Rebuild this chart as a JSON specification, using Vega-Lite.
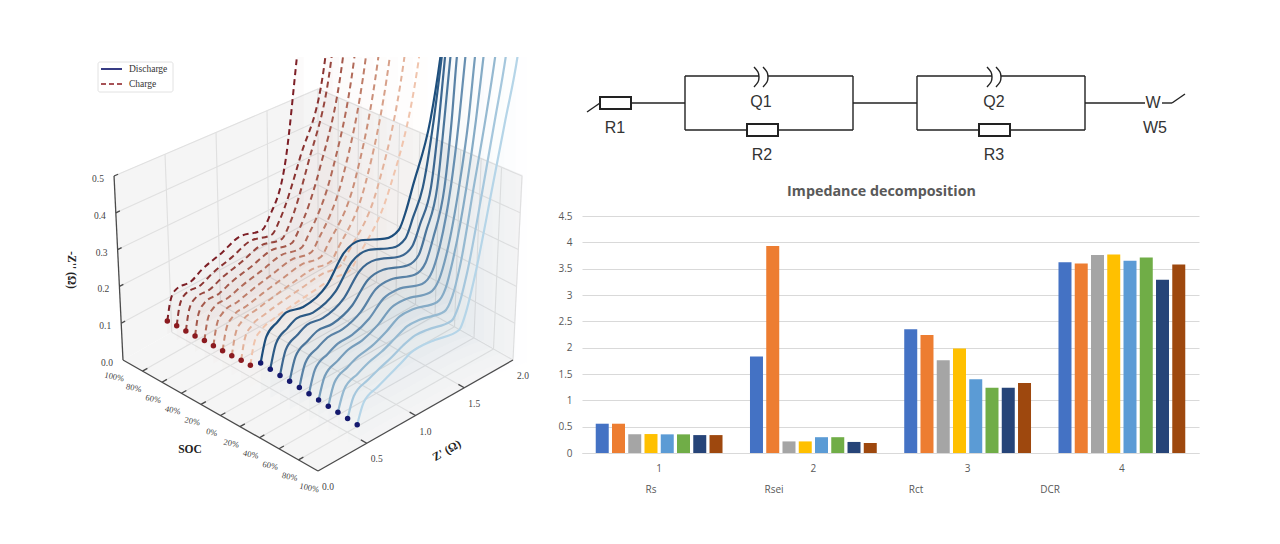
{"$schema":"https://vega.github.io/schema/vega-lite/v6.json","background":"white","padding":{"left":0,"top":57,"right":0,"bottom":0},"config":{"view":{"stroke":null}},"spacing":0,
"datasets":{
"grid":[
{"k":"g","s":-100,"x":0,"z":0.1,"s2":-100,"x2":2,"z2":0.1},{"k":"g","s":-100,"x":0,"z":0.2,"s2":-100,"x2":2,"z2":0.2},{"k":"g","s":-100,"x":0,"z":0.3,"s2":-100,"x2":2,"z2":0.3},{"k":"g","s":-100,"x":0,"z":0.4,"s2":-100,"x2":2,"z2":0.4},{"k":"g","s":-100,"x":0,"z":0.5,"s2":-100,"x2":2,"z2":0.5},
{"k":"g","s":-100,"x":2,"z":0.1,"s2":100,"x2":2,"z2":0.1},{"k":"g","s":-100,"x":2,"z":0.2,"s2":100,"x2":2,"z2":0.2},{"k":"g","s":-100,"x":2,"z":0.3,"s2":100,"x2":2,"z2":0.3},{"k":"g","s":-100,"x":2,"z":0.4,"s2":100,"x2":2,"z2":0.4},{"k":"g","s":-100,"x":2,"z":0.5,"s2":100,"x2":2,"z2":0.5},
{"k":"g","s":-100,"x":0.5,"z":0,"s2":-100,"x2":0.5,"z2":0.5},{"k":"g","s":-100,"x":1,"z":0,"s2":-100,"x2":1,"z2":0.5},{"k":"g","s":-100,"x":1.5,"z":0,"s2":-100,"x2":1.5,"z2":0.5},
{"k":"g","s":-100,"x":2,"z":0,"s2":-100,"x2":2,"z2":0.5},{"k":"g","s":-80,"x":2,"z":0,"s2":-80,"x2":2,"z2":0.5},{"k":"g","s":-60,"x":2,"z":0,"s2":-60,"x2":2,"z2":0.5},{"k":"g","s":-40,"x":2,"z":0,"s2":-40,"x2":2,"z2":0.5},{"k":"g","s":-20,"x":2,"z":0,"s2":-20,"x2":2,"z2":0.5},{"k":"g","s":0,"x":2,"z":0,"s2":0,"x2":2,"z2":0.5},{"k":"g","s":20,"x":2,"z":0,"s2":20,"x2":2,"z2":0.5},{"k":"g","s":40,"x":2,"z":0,"s2":40,"x2":2,"z2":0.5},{"k":"g","s":60,"x":2,"z":0,"s2":60,"x2":2,"z2":0.5},{"k":"g","s":80,"x":2,"z":0,"s2":80,"x2":2,"z2":0.5},{"k":"g","s":100,"x":2,"z":0,"s2":100,"x2":2,"z2":0.5},
{"k":"g","s":-100,"x":0.5,"z":0,"s2":100,"x2":0.5,"z2":0},{"k":"g","s":-100,"x":1,"z":0,"s2":100,"x2":1,"z2":0},{"k":"g","s":-100,"x":1.5,"z":0,"s2":100,"x2":1.5,"z2":0},{"k":"g","s":-100,"x":2,"z":0,"s2":100,"x2":2,"z2":0},
{"k":"g","s":-80,"x":0,"z":0,"s2":-80,"x2":2,"z2":0},{"k":"g","s":-60,"x":0,"z":0,"s2":-60,"x2":2,"z2":0},{"k":"g","s":-40,"x":0,"z":0,"s2":-40,"x2":2,"z2":0},{"k":"g","s":-20,"x":0,"z":0,"s2":-20,"x2":2,"z2":0},{"k":"g","s":0,"x":0,"z":0,"s2":0,"x2":2,"z2":0},{"k":"g","s":20,"x":0,"z":0,"s2":20,"x2":2,"z2":0},{"k":"g","s":40,"x":0,"z":0,"s2":40,"x2":2,"z2":0},{"k":"g","s":60,"x":0,"z":0,"s2":60,"x2":2,"z2":0},{"k":"g","s":80,"x":0,"z":0,"s2":80,"x2":2,"z2":0},
{"k":"a","s":-100,"x":0,"z":0,"s2":-100,"x2":0,"z2":0.5},{"k":"a","s":-100,"x":0,"z":0,"s2":100,"x2":0,"z2":0},{"k":"a","s":100,"x":0,"z":0,"s2":100,"x2":2,"z2":0},
{"k":"a","s":-100,"x":0,"z":0.1,"s2":-100,"x2":0.04,"z2":0.1},{"k":"a","s":-100,"x":0,"z":0.2,"s2":-100,"x2":0.04,"z2":0.2},{"k":"a","s":-100,"x":0,"z":0.3,"s2":-100,"x2":0.04,"z2":0.3},{"k":"a","s":-100,"x":0,"z":0.4,"s2":-100,"x2":0.04,"z2":0.4},{"k":"a","s":-100,"x":0,"z":0.5,"s2":-100,"x2":0.04,"z2":0.5},
{"k":"a","s":-80,"x":0,"z":0,"s2":-80,"x2":0.05,"z2":0},{"k":"a","s":-60,"x":0,"z":0,"s2":-60,"x2":0.05,"z2":0},{"k":"a","s":-40,"x":0,"z":0,"s2":-40,"x2":0.05,"z2":0},{"k":"a","s":-20,"x":0,"z":0,"s2":-20,"x2":0.05,"z2":0},{"k":"a","s":0,"x":0,"z":0,"s2":0,"x2":0.05,"z2":0},{"k":"a","s":20,"x":0,"z":0,"s2":20,"x2":0.05,"z2":0},{"k":"a","s":40,"x":0,"z":0,"s2":40,"x2":0.05,"z2":0},{"k":"a","s":60,"x":0,"z":0,"s2":60,"x2":0.05,"z2":0},{"k":"a","s":80,"x":0,"z":0,"s2":80,"x2":0.05,"z2":0},
{"k":"a","s":100,"x":0.5,"z":0,"s2":94,"x2":0.5,"z2":0},{"k":"a","s":100,"x":1,"z":0,"s2":94,"x2":1,"z2":0},{"k":"a","s":100,"x":1.5,"z":0,"s2":94,"x2":1.5,"z2":0}
],
"ticks":[
{"k":"z","s":-100,"x":0,"z":0,"label":"0.0"},{"k":"z","s":-100,"x":0,"z":0.1,"label":"0.1"},{"k":"z","s":-100,"x":0,"z":0.2,"label":"0.2"},{"k":"z","s":-100,"x":0,"z":0.3,"label":"0.3"},{"k":"z","s":-100,"x":0,"z":0.4,"label":"0.4"},{"k":"z","s":-100,"x":0,"z":0.5,"label":"0.5"},
{"k":"s","s":-100,"x":0,"z":0,"label":"100%"},{"k":"s","s":-80,"x":0,"z":0,"label":"80%"},{"k":"s","s":-60,"x":0,"z":0,"label":"60%"},{"k":"s","s":-40,"x":0,"z":0,"label":"40%"},{"k":"s","s":-20,"x":0,"z":0,"label":"20%"},{"k":"s","s":0,"x":0,"z":0,"label":"0%"},{"k":"s","s":20,"x":0,"z":0,"label":"20%"},{"k":"s","s":40,"x":0,"z":0,"label":"40%"},{"k":"s","s":60,"x":0,"z":0,"label":"60%"},{"k":"s","s":80,"x":0,"z":0,"label":"80%"},{"k":"s","s":100,"x":0,"z":0,"label":"100%"},
{"k":"r","s":100,"x":0,"z":0,"label":"0.0"},{"k":"r","s":100,"x":0.5,"z":0,"label":"0.5"},{"k":"r","s":100,"x":1,"z":0,"label":"1.0"},{"k":"r","s":100,"x":1.5,"z":0,"label":"1.5"},{"k":"r","s":100,"x":2,"z":0,"label":"2.0"}
],
"starts":[
{"s":-100,"x":0.46,"z":0.038},{"s":-90,"x":0.456,"z":0.04},{"s":-80,"x":0.45,"z":0.042},{"s":-70,"x":0.444,"z":0.044},{"s":-60,"x":0.44,"z":0.047},{"s":-50,"x":0.432,"z":0.049},{"s":-40,"x":0.426,"z":0.051},{"s":-30,"x":0.42,"z":0.053},{"s":-20,"x":0.416,"z":0.056},{"s":-10,"x":0.41,"z":0.058},
{"s":0,"x":0.416,"z":0.077},{"s":10,"x":0.414,"z":0.075},{"s":20,"x":0.413,"z":0.073},{"s":30,"x":0.411,"z":0.072},{"s":40,"x":0.41,"z":0.07},{"s":50,"x":0.408,"z":0.068},{"s":60,"x":0.406,"z":0.066},{"s":70,"x":0.405,"z":0.064},{"s":80,"x":0.403,"z":0.063},{"s":90,"x":0.402,"z":0.061},{"s":100,"x":0.4,"z":0.059}
],
"curves":[
{"s":-100,"x":0.46,"z":0.038},{"s":-100,"x":0.5,"z":0.09},{"s":-100,"x":0.554,"z":0.111},{"s":-100,"x":0.718,"z":0.112},{"s":-100,"x":0.82,"z":0.128},{"s":-100,"x":1.026,"z":0.146},{"s":-100,"x":1.2,"z":0.166},{"s":-100,"x":1.436,"z":0.151},{"s":-100,"x":1.508,"z":0.179},{"s":-100,"x":1.682,"z":0.334},{"s":-100,"x":1.794,"z":0.622},{"s":-100,"x":1.864,"z":0.822},
{"s":-90,"x":0.456,"z":0.04},{"s":-90,"x":0.495,"z":0.093},{"s":-90,"x":0.551,"z":0.114},{"s":-90,"x":0.712,"z":0.116},{"s":-90,"x":0.823,"z":0.131},{"s":-90,"x":1.027,"z":0.148},{"s":-90,"x":1.206,"z":0.167},{"s":-90,"x":1.435,"z":0.153},{"s":-90,"x":1.507,"z":0.181},{"s":-90,"x":1.72,"z":0.34},{"s":-90,"x":1.97,"z":0.613},{"s":-90,"x":2.04,"z":0.813},
{"s":-80,"x":0.45,"z":0.042},{"s":-80,"x":0.49,"z":0.095},{"s":-80,"x":0.548,"z":0.116},{"s":-80,"x":0.705,"z":0.12},{"s":-80,"x":0.825,"z":0.134},{"s":-80,"x":1.029,"z":0.15},{"s":-80,"x":1.212,"z":0.168},{"s":-80,"x":1.434,"z":0.155},{"s":-80,"x":1.506,"z":0.183},{"s":-80,"x":1.7,"z":0.34},{"s":-80,"x":1.93,"z":0.63},{"s":-80,"x":2,"z":0.83},
{"s":-70,"x":0.444,"z":0.044},{"s":-70,"x":0.485,"z":0.098},{"s":-70,"x":0.545,"z":0.119},{"s":-70,"x":0.699,"z":0.124},{"s":-70,"x":0.828,"z":0.138},{"s":-70,"x":1.03,"z":0.152},{"s":-70,"x":1.218,"z":0.168},{"s":-70,"x":1.433,"z":0.158},{"s":-70,"x":1.505,"z":0.185},{"s":-70,"x":1.72,"z":0.34},{"s":-70,"x":1.94,"z":0.64},{"s":-70,"x":2.01,"z":0.84},
{"s":-60,"x":0.44,"z":0.047},{"s":-60,"x":0.48,"z":0.1},{"s":-60,"x":0.542,"z":0.122},{"s":-60,"x":0.692,"z":0.128},{"s":-60,"x":0.831,"z":0.141},{"s":-60,"x":1.031,"z":0.154},{"s":-60,"x":1.224,"z":0.169},{"s":-60,"x":1.432,"z":0.16},{"s":-60,"x":1.504,"z":0.187},{"s":-60,"x":1.74,"z":0.34},{"s":-60,"x":1.95,"z":0.65},{"s":-60,"x":2.02,"z":0.85},
{"s":-50,"x":0.432,"z":0.049},{"s":-50,"x":0.475,"z":0.103},{"s":-50,"x":0.538,"z":0.124},{"s":-50,"x":0.686,"z":0.132},{"s":-50,"x":0.833,"z":0.144},{"s":-50,"x":1.033,"z":0.157},{"s":-50,"x":1.23,"z":0.17},{"s":-50,"x":1.432,"z":0.162},{"s":-50,"x":1.504,"z":0.189},{"s":-50,"x":1.75,"z":0.34},{"s":-50,"x":1.96,"z":0.66},{"s":-50,"x":2.03,"z":0.86},
{"s":-40,"x":0.426,"z":0.051},{"s":-40,"x":0.47,"z":0.105},{"s":-40,"x":0.535,"z":0.127},{"s":-40,"x":0.679,"z":0.136},{"s":-40,"x":0.836,"z":0.147},{"s":-40,"x":1.034,"z":0.159},{"s":-40,"x":1.236,"z":0.171},{"s":-40,"x":1.431,"z":0.164},{"s":-40,"x":1.503,"z":0.191},{"s":-40,"x":1.77,"z":0.34},{"s":-40,"x":1.98,"z":0.669},{"s":-40,"x":2.05,"z":0.869},
{"s":-30,"x":0.42,"z":0.053},{"s":-30,"x":0.465,"z":0.108},{"s":-30,"x":0.532,"z":0.13},{"s":-30,"x":0.673,"z":0.14},{"s":-30,"x":0.839,"z":0.15},{"s":-30,"x":1.035,"z":0.161},{"s":-30,"x":1.242,"z":0.171},{"s":-30,"x":1.43,"z":0.166},{"s":-30,"x":1.502,"z":0.193},{"s":-30,"x":1.77,"z":0.34},{"s":-30,"x":1.99,"z":0.68},{"s":-30,"x":2.06,"z":0.88},
{"s":-20,"x":0.416,"z":0.056},{"s":-20,"x":0.46,"z":0.11},{"s":-20,"x":0.529,"z":0.132},{"s":-20,"x":0.666,"z":0.144},{"s":-20,"x":0.841,"z":0.154},{"s":-20,"x":1.037,"z":0.163},{"s":-20,"x":1.248,"z":0.172},{"s":-20,"x":1.429,"z":0.169},{"s":-20,"x":1.501,"z":0.195},{"s":-20,"x":1.79,"z":0.34},{"s":-20,"x":2.03,"z":0.685},{"s":-20,"x":2.1,"z":0.885},
{"s":-10,"x":0.41,"z":0.058},{"s":-10,"x":0.455,"z":0.113},{"s":-10,"x":0.526,"z":0.135},{"s":-10,"x":0.66,"z":0.148},{"s":-10,"x":0.844,"z":0.157},{"s":-10,"x":1.038,"z":0.165},{"s":-10,"x":1.254,"z":0.173},{"s":-10,"x":1.428,"z":0.171},{"s":-10,"x":1.5,"z":0.197},{"s":-10,"x":1.8,"z":0.34},{"s":-10,"x":2.07,"z":0.69},{"s":-10,"x":2.14,"z":0.89},
{"s":0,"x":0.416,"z":0.077},{"s":0,"x":0.476,"z":0.137},{"s":0,"x":0.59,"z":0.161},{"s":0,"x":0.68,"z":0.174},{"s":0,"x":0.85,"z":0.165},{"s":0,"x":1.09,"z":0.191},{"s":0,"x":1.26,"z":0.256},{"s":0,"x":1.43,"z":0.268},{"s":0,"x":1.67,"z":0.239},{"s":0,"x":1.81,"z":0.244},{"s":0,"x":1.88,"z":0.29},{"s":0,"x":1.94,"z":0.35},{"s":0,"x":2.1,"z":0.524},{"s":0,"x":2.18,"z":0.7},{"s":0,"x":2.24,"z":0.9},
{"s":10,"x":0.414,"z":0.075},{"s":10,"x":0.475,"z":0.134},{"s":10,"x":0.592,"z":0.158},{"s":10,"x":0.684,"z":0.171},{"s":10,"x":0.849,"z":0.164},{"s":10,"x":1.075,"z":0.189},{"s":10,"x":1.24,"z":0.248},{"s":10,"x":1.405,"z":0.258},{"s":10,"x":1.646,"z":0.231},{"s":10,"x":1.778,"z":0.239},{"s":10,"x":1.85,"z":0.289},{"s":10,"x":1.94,"z":0.362},{"s":10,"x":2.03,"z":0.544},{"s":10,"x":2.09,"z":0.72},{"s":10,"x":2.15,"z":0.92},
{"s":20,"x":0.413,"z":0.073},{"s":20,"x":0.473,"z":0.131},{"s":20,"x":0.593,"z":0.154},{"s":20,"x":0.688,"z":0.167},{"s":20,"x":0.848,"z":0.163},{"s":20,"x":1.06,"z":0.187},{"s":20,"x":1.22,"z":0.24},{"s":20,"x":1.38,"z":0.248},{"s":20,"x":1.621,"z":0.224},{"s":20,"x":1.746,"z":0.235},{"s":20,"x":1.82,"z":0.287},{"s":20,"x":1.92,"z":0.379},{"s":20,"x":1.98,"z":0.563},{"s":20,"x":2.02,"z":0.74},{"s":20,"x":2.08,"z":0.94},
{"s":30,"x":0.411,"z":0.072},{"s":30,"x":0.472,"z":0.127},{"s":30,"x":0.595,"z":0.151},{"s":30,"x":0.692,"z":0.164},{"s":30,"x":0.847,"z":0.162},{"s":30,"x":1.046,"z":0.184},{"s":30,"x":1.2,"z":0.231},{"s":30,"x":1.355,"z":0.238},{"s":30,"x":1.597,"z":0.216},{"s":30,"x":1.713,"z":0.23},{"s":30,"x":1.78,"z":0.286},{"s":30,"x":1.88,"z":0.397},{"s":30,"x":1.93,"z":0.581},{"s":30,"x":1.97,"z":0.756},{"s":30,"x":2.03,"z":0.956},
{"s":40,"x":0.41,"z":0.07},{"s":40,"x":0.47,"z":0.124},{"s":40,"x":0.596,"z":0.147},{"s":40,"x":0.696,"z":0.16},{"s":40,"x":0.846,"z":0.161},{"s":40,"x":1.032,"z":0.182},{"s":40,"x":1.18,"z":0.222},{"s":40,"x":1.33,"z":0.228},{"s":40,"x":1.572,"z":0.208},{"s":40,"x":1.681,"z":0.226},{"s":40,"x":1.75,"z":0.284},{"s":40,"x":1.85,"z":0.414},{"s":40,"x":1.9,"z":0.596},{"s":40,"x":1.93,"z":0.77},{"s":40,"x":1.99,"z":0.97},
{"s":50,"x":0.408,"z":0.068},{"s":50,"x":0.469,"z":0.121},{"s":50,"x":0.598,"z":0.144},{"s":50,"x":0.7,"z":0.157},{"s":50,"x":0.845,"z":0.16},{"s":50,"x":1.017,"z":0.18},{"s":50,"x":1.16,"z":0.214},{"s":50,"x":1.305,"z":0.219},{"s":50,"x":1.548,"z":0.2},{"s":50,"x":1.649,"z":0.221},{"s":50,"x":1.72,"z":0.283},{"s":50,"x":1.81,"z":0.432},{"s":50,"x":1.87,"z":0.612},{"s":50,"x":1.91,"z":0.783},{"s":50,"x":1.97,"z":0.983},
{"s":60,"x":0.406,"z":0.066},{"s":60,"x":0.468,"z":0.118},{"s":60,"x":0.6,"z":0.14},{"s":60,"x":0.704,"z":0.154},{"s":60,"x":0.844,"z":0.159},{"s":60,"x":1.002,"z":0.178},{"s":60,"x":1.14,"z":0.206},{"s":60,"x":1.28,"z":0.209},{"s":60,"x":1.524,"z":0.193},{"s":60,"x":1.617,"z":0.216},{"s":60,"x":1.69,"z":0.282},{"s":60,"x":1.79,"z":0.448},{"s":60,"x":1.86,"z":0.624},{"s":60,"x":1.9,"z":0.792},{"s":60,"x":1.96,"z":0.992},
{"s":70,"x":0.405,"z":0.064},{"s":70,"x":0.466,"z":0.115},{"s":70,"x":0.601,"z":0.137},{"s":70,"x":0.708,"z":0.15},{"s":70,"x":0.843,"z":0.158},{"s":70,"x":0.988,"z":0.176},{"s":70,"x":1.12,"z":0.198},{"s":70,"x":1.255,"z":0.199},{"s":70,"x":1.499,"z":0.185},{"s":70,"x":1.585,"z":0.212},{"s":70,"x":1.65,"z":0.28},{"s":70,"x":1.76,"z":0.462},{"s":70,"x":1.83,"z":0.637},{"s":70,"x":1.88,"z":0.805},{"s":70,"x":1.94,"z":1.005},
{"s":80,"x":0.403,"z":0.063},{"s":80,"x":0.465,"z":0.111},{"s":80,"x":0.603,"z":0.133},{"s":80,"x":0.712,"z":0.147},{"s":80,"x":0.842,"z":0.157},{"s":80,"x":0.973,"z":0.173},{"s":80,"x":1.1,"z":0.189},{"s":80,"x":1.23,"z":0.189},{"s":80,"x":1.475,"z":0.177},{"s":80,"x":1.552,"z":0.207},{"s":80,"x":1.62,"z":0.279},{"s":80,"x":1.73,"z":0.478},{"s":80,"x":1.82,"z":0.651},{"s":80,"x":1.89,"z":0.814},{"s":80,"x":1.95,"z":1.014},
{"s":90,"x":0.402,"z":0.061},{"s":90,"x":0.463,"z":0.108},{"s":90,"x":0.604,"z":0.13},{"s":90,"x":0.716,"z":0.143},{"s":90,"x":0.841,"z":0.156},{"s":90,"x":0.959,"z":0.171},{"s":90,"x":1.08,"z":0.181},{"s":90,"x":1.205,"z":0.179},{"s":90,"x":1.45,"z":0.17},{"s":90,"x":1.52,"z":0.203},{"s":90,"x":1.59,"z":0.277},{"s":90,"x":1.72,"z":0.492},{"s":90,"x":1.81,"z":0.662},{"s":90,"x":1.89,"z":0.826},{"s":90,"x":1.95,"z":1.026},
{"s":100,"x":0.4,"z":0.059},{"s":100,"x":0.462,"z":0.105},{"s":100,"x":0.606,"z":0.126},{"s":100,"x":0.72,"z":0.14},{"s":100,"x":0.84,"z":0.155},{"s":100,"x":0.944,"z":0.169},{"s":100,"x":1.06,"z":0.172},{"s":100,"x":1.18,"z":0.169},{"s":100,"x":1.426,"z":0.162},{"s":100,"x":1.488,"z":0.198},{"s":100,"x":1.56,"z":0.276},{"s":100,"x":1.71,"z":0.505},{"s":100,"x":1.81,"z":0.673},{"s":100,"x":1.9,"z":0.833},{"s":100,"x":1.96,"z":1.033}
]
},
"hconcat":[
{"width":550,"height":487,
"encoding":{"x":{"field":"px","type":"quantitative","scale":{"domain":[0,550],"nice":false,"zero":false},"axis":null},"y":{"field":"py","type":"quantitative","scale":{"domain":[544,57],"nice":false,"zero":false},"axis":null}},
"layer":[
{"data":{"values":[{"p":"w1","px":114,"py":176,"py2":176},{"p":"w1","px":123,"py":172,"py2":360},{"p":"w1","px":318,"py":88,"py2":249},{"p":"w2","px":318,"py":88,"py2":249},{"p":"w2","px":513,"py":171,"py2":359},{"p":"w2","px":523,"py":175,"py2":175},{"p":"f","px":123,"py":360,"py2":360},{"p":"f","px":318,"py":249,"py2":471},{"p":"f","px":513,"py":359,"py2":359}]},
"mark":{"type":"area","color":"#f5f5f5"},"encoding":{"y2":{"field":"py2"},"detail":{"field":"p"}}},
{"data":{"name":"grid"},
"transform":[{"calculate":"(datum.s+100)/200+datum.x/2","as":"b0"},{"calculate":"(datum.s+100)/200-datum.x/2","as":"d"},{"calculate":"123+195*datum.b0","as":"b"},{"calculate":"datum.b+(datum.b-318)*0.092*datum.z","as":"px"},{"calculate":"360+111*datum.d-368*(1+0.13*datum.d)*datum.z","as":"py"},{"calculate":"(datum.s2+100)/200+datum.x2/2","as":"c0"},{"calculate":"(datum.s2+100)/200-datum.x2/2","as":"e"},{"calculate":"123+195*datum.c0","as":"c"},{"calculate":"datum.c+(datum.c-318)*0.092*datum.z2","as":"px2"},{"calculate":"360+111*datum.e-368*(1+0.13*datum.e)*datum.z2","as":"py2"}],
"layer":[
{"transform":[{"filter":"datum.k=='g'"}],"mark":{"type":"rule","color":"#e0e0e0","strokeWidth":1.1},"encoding":{"x2":{"field":"px2"},"y2":{"field":"py2"}}},
{"transform":[{"filter":"datum.k=='a'"}],"mark":{"type":"rule","color":"#4a4a4a","strokeWidth":1.3},"encoding":{"x2":{"field":"px2"},"y2":{"field":"py2"}}}
]},
{"data":{"name":"ticks"},
"transform":[{"calculate":"(datum.s+100)/200+datum.x/2","as":"b0"},{"calculate":"(datum.s+100)/200-datum.x/2","as":"d"},{"calculate":"123+195*datum.b0","as":"b"},{"calculate":"datum.b+(datum.b-318)*0.092*datum.z","as":"px"},{"calculate":"360+111*datum.d-368*(1+0.13*datum.d)*datum.z","as":"py"}],
"layer":[
{"transform":[{"filter":"datum.k=='z'"}],"mark":{"type":"text","font":"Liberation Serif","fontSize":9.5,"color":"#444","dx":-16,"dy":3},"encoding":{"text":{"field":"label"}}},
{"transform":[{"filter":"datum.k=='s'"}],"mark":{"type":"text","font":"Liberation Serif","fontSize":8.5,"color":"#444","dx":-5,"dy":18,"angle":12},"encoding":{"text":{"field":"label"}}},
{"transform":[{"filter":"datum.k=='r'"}],"mark":{"type":"text","font":"Liberation Serif","fontSize":9.5,"color":"#444","dx":10,"dy":16},"encoding":{"text":{"field":"label"}}}
]},
{"data":{"name":"curves"},
"transform":[{"calculate":"(datum.s+100)/200+datum.x/2","as":"b0"},{"calculate":"(datum.s+100)/200-datum.x/2","as":"d"},{"calculate":"123+195*datum.b0","as":"b"},{"calculate":"datum.b+(datum.b-318)*0.092*datum.z","as":"px"},{"calculate":"360+111*datum.d-368*(1+0.13*datum.d)*datum.z","as":"py"},{"calculate":"360+111*datum.d","as":"py0"}],
"encoding":{"detail":{"field":"s","type":"nominal"},"color":{"field":"s","type":"quantitative","legend":null,"scale":{"domain":[-100,-10,0,100],"range":["#7d1f26","#f0c4ad","#1d4e7c","#b5d5e8"]}}},
"layer":[
{"mark":{"type":"area","interpolate":"monotone","opacity":0.02,"clip":true},"encoding":{"y2":{"field":"py0"}}},
{"transform":[{"filter":"datum.s<0"}],"mark":{"type":"line","interpolate":"monotone","strokeWidth":2,"strokeDash":[6,4],"clip":true}},
{"transform":[{"filter":"datum.s>=0"}],"mark":{"type":"line","interpolate":"monotone","strokeWidth":2.2,"clip":true}}
]},
{"data":{"name":"starts"},
"transform":[{"calculate":"(datum.s+100)/200+datum.x/2","as":"b0"},{"calculate":"(datum.s+100)/200-datum.x/2","as":"d"},{"calculate":"123+195*datum.b0","as":"b"},{"calculate":"datum.b+(datum.b-318)*0.092*datum.z","as":"px"},{"calculate":"360+111*datum.d-368*(1+0.13*datum.d)*datum.z","as":"py"}],
"layer":[
{"transform":[{"filter":"datum.s<0"}],"mark":{"type":"point","filled":true,"size":30,"color":"#8b1a1f","opacity":1}},
{"transform":[{"filter":"datum.s>=0"}],"mark":{"type":"point","filled":true,"size":30,"color":"#14196e","opacity":1}}
]},
{"data":{"values":[{"px":98,"px2":173,"py":62,"py2":92}]},"mark":{"type":"rect","fill":"white","stroke":"#e2e2e2","cornerRadius":2},"encoding":{"x2":{"field":"px2"},"y2":{"field":"py2"}}},
{"data":{"values":[{"px":101,"px2":122,"py":69}]},"mark":{"type":"rule","color":"#14196e","strokeWidth":1.7},"encoding":{"x2":{"field":"px2"}}},
{"data":{"values":[{"px":101,"px2":122,"py":84}]},"mark":{"type":"rule","color":"#8b1a1f","strokeWidth":1.7,"strokeDash":[5,3]},"encoding":{"x2":{"field":"px2"}}},
{"data":{"values":[{"px":129,"py":69,"label":"Discharge"},{"px":129,"py":84,"label":"Charge"}]},"mark":{"type":"text","align":"left","font":"Liberation Serif","fontSize":9.5,"color":"#333"},"encoding":{"text":{"field":"label"}}},
{"data":{"values":[{"px":190,"py":450,"label":"SOC"}]},"mark":{"type":"text","font":"Liberation Serif","fontWeight":"bold","fontSize":11.5,"color":"#222"},"encoding":{"text":{"field":"label"}}},
{"data":{"values":[{"px":447,"py":451,"label":"Z' (Ω)"}]},"mark":{"type":"text","font":"Liberation Serif","fontWeight":"bold","fontSize":11.5,"color":"#222","angle":-30},"encoding":{"text":{"field":"label"}}},
{"data":{"values":[{"px":71,"py":270,"label":"-Z'' (Ω)"}]},"mark":{"type":"text","font":"Liberation Serif","fontWeight":"bold","fontSize":11.5,"color":"#222","angle":90},"encoding":{"text":{"field":"label"}}}
]},
{"spacing":0,"vconcat":[
{"width":698,"height":127,
"encoding":{"x":{"field":"x","type":"quantitative","scale":{"domain":[32,730],"nice":false,"zero":false},"axis":null},"y":{"field":"y","type":"quantitative","scale":{"domain":[127,0],"nice":false,"zero":false},"axis":null}},
"layer":[
{"data":{"values":[{"x":37,"y":55,"x2":50,"y2":46},{"x":81,"y":46,"x2":135,"y2":46},{"x":135,"y":19,"x2":209,"y2":19},{"x":218,"y":19,"x2":303,"y2":19},{"x":135,"y":19,"x2":135,"y2":73},{"x":303,"y":19,"x2":303,"y2":73},{"x":135,"y":73,"x2":303,"y2":73},{"x":303,"y":46,"x2":367,"y2":46},{"x":367,"y":19,"x2":442,"y2":19},{"x":451,"y":19,"x2":535,"y2":19},{"x":367,"y":19,"x2":367,"y2":73},{"x":535,"y":19,"x2":535,"y2":73},{"x":367,"y":73,"x2":535,"y2":73},{"x":535,"y":46,"x2":595,"y2":46},{"x":612,"y":46,"x2":622,"y2":46},{"x":622,"y":46,"x2":635,"y2":37}]},"mark":{"type":"rule","color":"#222","strokeWidth":1.4},"encoding":{"x2":{"field":"x2"},"y2":{"field":"y2"}}},
{"data":{"values":[{"x":50,"y":40,"x2":81,"y2":52},{"x":197,"y":67,"x2":228,"y2":79},{"x":429,"y":67,"x2":460,"y2":79}]},"mark":{"type":"rect","fill":"white","stroke":"#222","strokeWidth":2},"encoding":{"x2":{"field":"x2"},"y2":{"field":"y2"}}},
{"data":{"values":[{"g":"a","o":0,"x":204,"y":10},{"g":"a","o":1,"x":208,"y":15},{"g":"a","o":2,"x":209,"y":20},{"g":"a","o":3,"x":208,"y":25},{"g":"a","o":4,"x":204,"y":30},{"g":"b","o":0,"x":213,"y":10},{"g":"b","o":1,"x":217,"y":15},{"g":"b","o":2,"x":218,"y":20},{"g":"b","o":3,"x":217,"y":25},{"g":"b","o":4,"x":213,"y":30},{"g":"c","o":0,"x":437,"y":10},{"g":"c","o":1,"x":441,"y":15},{"g":"c","o":2,"x":442,"y":20},{"g":"c","o":3,"x":441,"y":25},{"g":"c","o":4,"x":437,"y":30},{"g":"d","o":0,"x":446,"y":10},{"g":"d","o":1,"x":450,"y":15},{"g":"d","o":2,"x":451,"y":20},{"g":"d","o":3,"x":450,"y":25},{"g":"d","o":4,"x":446,"y":30}]},"mark":{"type":"line","color":"#222","strokeWidth":1.4,"interpolate":"cardinal"},"encoding":{"detail":{"field":"g"},"order":{"field":"o","type":"quantitative"}}},
{"data":{"values":[{"x":65,"y":71,"t":"R1"},{"x":211,"y":45,"t":"Q1"},{"x":212,"y":98,"t":"R2"},{"x":444,"y":45,"t":"Q2"},{"x":444,"y":98,"t":"R3"},{"x":605,"y":71,"t":"W5"},{"x":603,"y":46,"t":"W"}]},"mark":{"type":"text","font":"Liberation Sans","fontSize":16,"color":"#333"},"encoding":{"text":{"field":"t"}}}
]},
{"width":617,"height":237,
"title":{"text":"Impedance decomposition","font":"Open Sans","fontSize":14.3,"fontWeight":"bold","color":"#595959","anchor":"middle","dx":-9,"offset":12},
"data":{"values":[
{"group":"1","series":"1","value":0.556},{"group":"1","series":"2","value":0.556},{"group":"1","series":"3","value":0.354},{"group":"1","series":"4","value":0.36},{"group":"1","series":"5","value":0.354},{"group":"1","series":"6","value":0.354},{"group":"1","series":"7","value":0.34},{"group":"1","series":"8","value":0.34},
{"group":"2","series":"1","value":1.83},{"group":"2","series":"2","value":3.93},{"group":"2","series":"3","value":0.22},{"group":"2","series":"4","value":0.22},{"group":"2","series":"5","value":0.3},{"group":"2","series":"6","value":0.3},{"group":"2","series":"7","value":0.21},{"group":"2","series":"8","value":0.19},
{"group":"3","series":"1","value":2.35},{"group":"3","series":"2","value":2.24},{"group":"3","series":"3","value":1.76},{"group":"3","series":"4","value":1.985},{"group":"3","series":"5","value":1.4},{"group":"3","series":"6","value":1.24},{"group":"3","series":"7","value":1.24},{"group":"3","series":"8","value":1.33},
{"group":"4","series":"1","value":3.62},{"group":"4","series":"2","value":3.6},{"group":"4","series":"3","value":3.76},{"group":"4","series":"4","value":3.77},{"group":"4","series":"5","value":3.65},{"group":"4","series":"6","value":3.71},{"group":"4","series":"7","value":3.29},{"group":"4","series":"8","value":3.58}
]},
"mark":{"type":"bar"},
"encoding":{
"x":{"field":"group","type":"nominal","title":null,"scale":{"paddingInner":0.157,"paddingOuter":0.0785},"axis":{"labelAngle":0,"labelFont":"Open Sans","labelFontSize":10,"labelColor":"#595959","ticks":false,"domainColor":"#d9d9d9","labelPadding":10,"minExtent":25,"maxExtent":25,"grid":false}},
"xOffset":{"field":"series","type":"nominal","scale":{"paddingInner":0.2,"paddingOuter":0.1}},
"y":{"field":"value","type":"quantitative","title":null,"scale":{"domain":[0,4.5],"nice":false},"axis":{"values":[0,0.5,1,1.5,2,2.5,3,3.5,4,4.5],"labelExpr":"datum.value","labelFont":"Open Sans","labelFontSize":10,"labelColor":"#595959","ticks":false,"domain":false,"gridColor":"#d9d9d9","labelPadding":10,"minExtent":32,"maxExtent":32}},
"color":{"field":"series","type":"nominal","legend":null,"scale":{"range":["#4472C4","#ED7D31","#A5A5A5","#FFC000","#5B9BD5","#70AD47","#264478","#9E480E"]}}
}},
{"width":698,"height":63,
"data":{"values":[{"x":101,"y":12,"t":"Rs"},{"x":224,"y":12,"t":"Rsei"},{"x":366,"y":12,"t":"Rct"},{"x":500,"y":12,"t":"DCR"}]},
"mark":{"type":"text","font":"Open Sans","fontSize":10,"color":"#595959"},
"encoding":{"x":{"field":"x","type":"quantitative","scale":{"domain":[32,730],"nice":false,"zero":false},"axis":null},"y":{"field":"y","type":"quantitative","scale":{"domain":[63,0],"nice":false,"zero":false},"axis":null},"text":{"field":"t"}}}
]}
]}
